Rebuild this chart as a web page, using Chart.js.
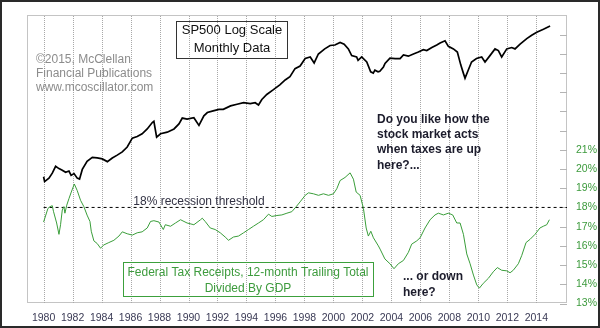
<!DOCTYPE html>
<html>
<head>
<meta charset="utf-8">
<script src="https://cdn.jsdelivr.net/npm/chart.js@4/dist/chart.umd.min.js"></script>
<style>
  html, body { margin: 0; padding: 0; background: #fff; }
  #wrap { width: 600px; height: 328px; position: relative; }
</style>
</head>
<body>
<div id="wrap"><canvas id="taxChart"></canvas></div>
<script>
// S&P 500 monthly (log scale)
const spYears = [1980.0, 1980.07, 1980.37, 1980.6, 1980.83, 1981.06, 1981.29, 1981.52, 1981.75, 1981.9,
  1982.1, 1982.32, 1982.48, 1982.67, 1983.0, 1983.36, 1983.7, 1984.05, 1984.4, 1984.74,
  1985.08, 1985.43, 1985.77, 1986.12, 1986.46, 1986.8, 1987.15, 1987.5, 1987.61, 1987.8,
  1988.07, 1988.53, 1989.0, 1989.34, 1989.57, 1989.9, 1990.37, 1990.72, 1991.06, 1991.3,
  1991.7, 1992.1, 1992.4, 1992.9, 1993.35, 1993.8, 1994.26, 1994.6, 1994.83, 1995.06,
  1995.4, 1995.86, 1996.3, 1996.67, 1997.0, 1997.35, 1997.7, 1998.05, 1998.4, 1998.67,
  1998.96, 1999.4, 1999.77, 2000.1, 2000.46, 2000.74, 2001.03, 2001.26, 2001.6, 2001.7,
  2001.95, 2002.3, 2002.57, 2002.75, 2002.86, 2003.08, 2003.2, 2003.45, 2003.56, 2003.9,
  2004.26, 2004.6, 2004.83, 2005.17, 2005.52, 2005.86, 2006.2, 2006.44, 2006.79, 2007.13,
  2007.36, 2007.7, 2007.93, 2008.28, 2008.55, 2008.79, 2008.97, 2009.08, 2009.3, 2009.53,
  2009.87, 2010.23, 2010.46, 2010.8, 2011.15, 2011.38, 2011.61, 2011.96, 2012.3, 2012.53,
  2012.88, 2013.34, 2013.68, 2014.03, 2014.49, 2014.95];
const spValues = [112, 102, 109, 120, 137, 131, 127, 122, 125, 115,
  119, 109, 107, 129, 151, 163, 161, 158, 150, 161,
  170, 181, 199, 236, 244, 257, 282, 319, 327, 241,
  257, 265, 282, 311, 348, 341, 350, 302, 363, 387,
  400, 412, 412, 440, 454, 468, 460, 468, 448, 498,
  549, 602, 661, 726, 773, 904, 950, 1099, 1133, 1009,
  1200, 1324, 1413, 1426, 1498, 1452, 1324, 1162, 1133, 1060,
  1133, 1028, 850, 830, 877, 850, 860, 934, 1000, 1106,
  1099, 1099, 1178, 1150, 1200, 1246, 1302, 1281, 1359, 1426,
  1484, 1549, 1390, 1324, 1246, 968, 825, 752, 877, 1028,
  1099, 1133, 1028, 1162, 1324, 1281, 1133, 1324, 1359, 1324,
  1452, 1616, 1724, 1829, 1932, 2058];

// Federal tax receipts / GDP, %
const taxYears = [1980.0, 1980.3, 1980.44, 1980.6, 1980.68, 1980.9, 1981.06, 1981.17, 1981.29, 1981.4,
  1981.47, 1981.6, 1981.75, 1981.91, 1982.12, 1982.32, 1982.55, 1982.78, 1983.0, 1983.2,
  1983.29, 1983.47, 1983.7, 1983.93, 1984.16, 1984.5, 1984.85, 1985.2, 1985.43, 1985.77,
  1986.12, 1986.46, 1986.8, 1987.15, 1987.38, 1987.61, 1987.96, 1988.26, 1988.4, 1988.76,
  1989.1, 1989.45, 1989.9, 1990.37, 1990.83, 1990.95, 1991.15, 1991.5, 1991.84, 1992.19,
  1992.53, 1992.76, 1993.1, 1993.45, 1993.8, 1994.14, 1994.48, 1994.83, 1995.17, 1995.52,
  1995.75, 1996.1, 1996.44, 1996.79, 1997.13, 1997.43, 1997.7, 1998.05, 1998.28, 1998.62,
  1998.97, 1999.31, 1999.66, 2000.0, 2000.23, 2000.46, 2000.8, 2001.15, 2001.38, 2001.57,
  2001.84, 2002.07, 2002.26, 2002.41, 2002.58, 2002.76, 2003.1, 2003.22, 2003.55, 2003.9,
  2004.18, 2004.48, 2004.83, 2005.17, 2005.4, 2005.75, 2005.98, 2006.32, 2006.67, 2007.01,
  2007.24, 2007.59, 2007.93, 2008.23, 2008.51, 2008.74, 2008.97, 2009.2, 2009.43, 2009.66,
  2009.89, 2010.07, 2010.34, 2010.69, 2011.03, 2011.31, 2011.61, 2011.96, 2012.19, 2012.41,
  2012.76, 2012.99, 2013.29, 2013.57, 2013.91, 2014.25, 2014.48, 2014.72, 2014.9];
const taxValues = [17.24, 17.95, 18.04, 18.09, 17.8, 17.19, 16.6, 17.1, 17.87, 18.04,
  17.7, 18.12, 18.46, 18.8, 19.22, 18.88, 18.37, 18.04, 17.6, 17.27,
  16.76, 16.26, 16.12, 15.88, 16.05, 16.17, 16.29, 16.51, 16.73, 16.63,
  16.56, 16.68, 16.73, 16.93, 17.27, 17.31, 17.24, 16.85, 17.1, 17.02,
  17.19, 17.36, 17.19, 17.1, 17.36, 17.44, 17.27, 16.93, 16.85, 16.68,
  16.46, 16.29, 16.46, 16.51, 16.68, 16.85, 17.02, 17.19, 17.36, 17.65,
  17.53, 17.58, 17.61, 17.7, 17.78, 18.04, 18.29, 18.63, 18.76, 18.71,
  18.63, 18.71, 18.63, 18.71, 18.97, 19.4, 19.56, 19.8, 19.47, 18.8,
  18.63, 17.95, 16.93, 16.51, 16.76, 16.42, 16.0, 15.83, 15.32, 15.07,
  14.81, 15.07, 15.24, 15.66, 16.09, 16.26, 16.42, 16.93, 17.36, 17.61,
  17.7, 17.61, 17.7, 17.61, 17.19, 17.19, 16.6, 15.58, 15.07, 14.48,
  13.97, 13.8, 14.05, 14.31, 14.65, 14.87, 14.73, 14.7, 14.6, 14.73,
  15.07, 15.49, 16.17, 16.34, 16.6, 16.93, 17.02, 17.1, 17.36];

const xTickYears = [1980, 1982, 1984, 1986, 1988, 1990, 1992, 1994, 1996, 1998,
  2000, 2002, 2004, 2006, 2008, 2010, 2012, 2014];
const taxTicks = [13, 14, 15, 16, 17, 18, 19, 20, 21, 22, 23, 24, 25, 26, 27];
const taxLabelMax = 21;
const thresholdValue = 18;
const thresholdStart = 1980;

const FONT = "'Liberation Sans', Arial, sans-serif";

const chartDecor = {
    id: 'chartDecor',
    beforeDraw(chart) {
        const ctx = chart.ctx;
        ctx.save();
        ctx.fillStyle = '#ffffff';
        ctx.fillRect(0, 0, chart.width, chart.height);
        ctx.restore();
    },
    beforeDatasetsDraw(chart) {
        const ctx = chart.ctx;
        const a = chart.chartArea;
        const xs = chart.scales.x;
        const yTax = chart.scales.yTax;
        ctx.save();
        // plot frame
        ctx.lineWidth = 1;
        ctx.strokeStyle = '#c4c4c4';
        ctx.strokeRect(Math.round(a.left) + 0.5, Math.round(a.top) + 0.5,
            Math.round(a.right - a.left) - 1, Math.round(a.bottom - a.top) - 1);
        // short tick marks inside the right edge
        ctx.strokeStyle = '#b4b4b4';
        taxTicks.forEach(v => {
            const y = Math.round(yTax.getPixelForValue(v)) + 0.5;
            ctx.beginPath();
            ctx.moveTo(a.right - 7, y);
            ctx.lineTo(a.right, y);
            ctx.stroke();
        });
        // vertical grid, one line per labelled year (drawn as 1px dots)
        ctx.fillStyle = '#a8a8a8';
        const top = Math.round(a.top) + 1;
        const bottom = Math.round(a.bottom) - 1;
        xTickYears.forEach(v => {
            const px = Math.round(xs.getPixelForValue(v));
            for (let y = top; y < bottom; y += 2) {
                ctx.fillRect(px, y, 1, 1);
            }
        });
        ctx.restore();
    },
    afterDraw(chart) {
        const ctx = chart.ctx;
        const yTax = chart.scales.yTax;
        ctx.save();

        // copyright
        ctx.fillStyle = '#8c8c8c';
        ctx.font = '12px ' + FONT;
        ctx.textAlign = 'left';
        ctx.textBaseline = 'middle';
        ['©2015, McClellan', 'Financial Publications', 'www.mcoscillator.com']
            .forEach((t, i) => ctx.fillText(t, 36, 60 + i * 14));

        // SP500 title box
        ctx.strokeStyle = '#333333';
        ctx.lineWidth = 1;
        ctx.strokeRect(176.5, 21.5, 111, 37);
        ctx.fillStyle = '#111111';
        ctx.font = '13px ' + FONT;
        ctx.textAlign = 'center';
        ctx.fillText('SP500 Log Scale', 232, 30);
        ctx.fillText('Monthly Data', 232, 48);

        // questions
        ctx.fillStyle = '#1c1c2c';
        ctx.font = 'bold 12px ' + FONT;
        ctx.textAlign = 'left';
        ['Do you like how the', 'stock market acts', 'when taxes are up', 'here?...']
            .forEach((t, i) => ctx.fillText(t, 377, 119.5 + i * 15.3));
        ['... or down', 'here?'].forEach((t, i) => ctx.fillText(t, 403, 277 + i * 15.3));

        // threshold label
        ctx.fillStyle = '#333344';
        ctx.font = '12px ' + FONT;
        ctx.textAlign = 'center';
        ctx.fillText(thresholdValue + '% recession threshold', 199, yTax.getPixelForValue(thresholdValue) - 6);

        // green legend box
        ctx.strokeStyle = '#3ca03c';
        ctx.strokeRect(123.5, 262.5, 250, 34);
        ctx.fillStyle = '#3d9b3d';
        ctx.fillText('Federal Tax Receipts, 12-month Trailing Total', 248, 272.5);
        ctx.fillText('Divided By GDP', 248, 288.5);

        // outer frame
        ctx.strokeStyle = '#2a2a2a';
        ctx.lineWidth = 2;
        ctx.strokeRect(1, 1, chart.width - 2, chart.height - 2);
        ctx.restore();
    }
};

const ctx = document.getElementById('taxChart').getContext('2d');
new Chart(ctx, {
    type: 'line',
    data: {
        datasets: [
            {
                label: 'SP500',
                data: spYears.map((yr, i) => ({ x: yr, y: spValues[i] })),
                yAxisID: 'ySp',
                borderColor: '#000000',
                borderWidth: 1.7,
                pointRadius: 0,
                tension: 0
            },
            {
                label: 'Tax receipts / GDP',
                data: taxYears.map((yr, i) => ({ x: yr, y: taxValues[i] })),
                yAxisID: 'yTax',
                borderColor: '#3a9e3a',
                borderWidth: 1,
                pointRadius: 0,
                tension: 0
            },
            {
                label: 'Threshold',
                data: [{ x: thresholdStart, y: thresholdValue }, { x: 2016.117, y: thresholdValue }],
                yAxisID: 'yTax',
                borderColor: '#000000',
                borderWidth: 1,
                borderDash: [3, 3],
                pointRadius: 0
            }
        ]
    },
    options: {
        responsive: true,
        maintainAspectRatio: false,
        animation: false,
        events: [],
        layout: { padding: { left: 27, top: 9, right: 0, bottom: 0 } },
        plugins: {
            legend: { display: false },
            tooltip: { enabled: false }
        },
        scales: {
            x: {
                type: 'linear',
                min: 1978.855,
                max: 2016.117,
                afterBuildTicks: scale => {
                    scale.ticks = xTickYears.map(v => ({ value: v }));
                },
                afterFit: scale => { scale.height = 24.5; },
                grid: { drawOnChartArea: false, drawTicks: false },
                border: { display: false },
                ticks: {
                    autoSkip: false,
                    maxRotation: 0,
                    padding: 8,
                    color: '#3a3a55',
                    font: { family: FONT, size: 10.5 },
                    callback: v => String(v)
                }
            },
            ySp: {
                type: 'logarithmic',
                display: false,
                min: 9.68,
                max: 2533
            },
            yTax: {
                type: 'linear',
                position: 'right',
                min: 13,
                max: 28,
                afterBuildTicks: scale => {
                    scale.ticks = taxTicks.map(v => ({ value: v }));
                },
                afterFit: scale => { scale.width = 33; },
                grid: { drawOnChartArea: false, drawTicks: false },
                border: { display: false },
                ticks: {
                    padding: 9,
                    color: '#3c9a3c',
                    font: { family: FONT, size: 10.5 },
                    callback: v => (v <= taxLabelMax ? v + '%' : '')
                }
            }
        }
    },
    plugins: [chartDecor]
});
</script>
</body>
</html>
